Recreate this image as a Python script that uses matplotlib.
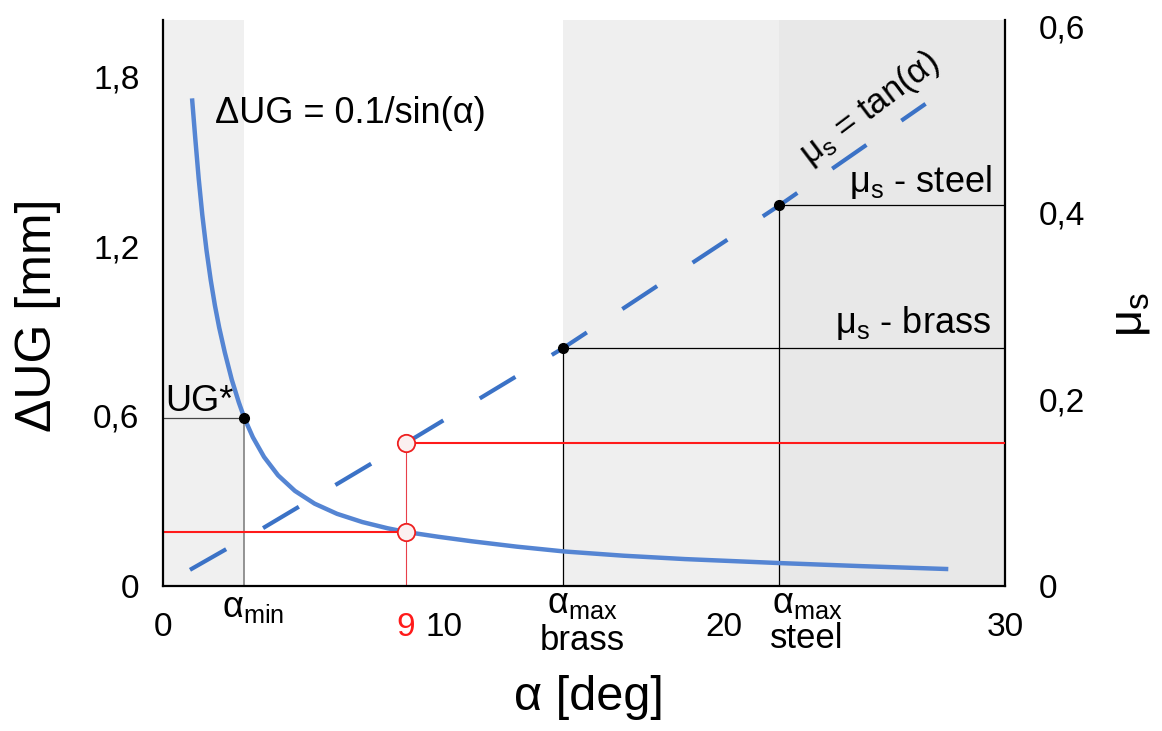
import matplotlib
matplotlib.use('Agg')
import matplotlib.pyplot as plt

plt.rcParams['font.family'] = ['Liberation Sans', 'DejaVu Sans']
plt.rcParams['mathtext.default'] = 'regular'

# dUG = 0.1/sin(alpha) curve (alpha in deg, dUG in mm)
alpha_ug = [1.04, 1.15, 1.27, 1.40, 1.55, 1.70, 1.85, 2.00, 2.20, 2.45, 2.70, 2.90,
            3.20, 3.60, 4.10, 4.70, 5.40, 6.20, 7.10, 8.00, 8.65, 9.80, 11.0, 12.6,
            14.29, 16.4, 18.6, 21.95, 24.9, 27.9]
dug = [1.715, 1.58, 1.44, 1.31, 1.185, 1.08, 0.99, 0.913, 0.825, 0.728, 0.648, 0.592,
       0.525, 0.455, 0.39, 0.335, 0.29, 0.254, 0.225, 0.203, 0.190, 0.173, 0.157, 0.138,
       0.121, 0.106, 0.094, 0.080, 0.069, 0.059]

# mu_s = tan(alpha) dashed line (right axis)
alpha_mu = [0.96, 3.52, 8.65, 14.26, 21.96, 27.17]
mu = [0.017, 0.061, 0.153, 0.255, 0.408, 0.517]

# marked points
alpha_min, ug_star = 2.88, 0.592
alpha_red, dug_red, mu_red = 8.65, 0.190, 0.153
alpha_brass, mu_brass = 14.26, 0.255
alpha_steel, mu_steel = 21.96, 0.408

xticks = [0, alpha_red, 10, 20, 30]
xtick_labels = ['0', '9', '10', '20', '30']
yticks_l = [0, 0.6, 1.2, 1.8]
ytick_labels_l = ['0', '0,6', '1,2', '1,8']
yticks_r = [0, 0.2, 0.4, 0.6]
ytick_labels_r = ['0', '0,2', '0,4', '0,6']

blue = '#5585d3'
blue_d = '#3b72c6'
red = '#ff1a1a'

fig = plt.figure(figsize=(11.62, 7.31), dpi=100)
ax = fig.add_axes([0.1403, 0.1988, 0.7246, 0.7739])
ax2 = ax.twinx()
ax.set_zorder(2)
ax2.set_zorder(1)
ax.patch.set_visible(False)

ax.set_xlim(0, 30)
ax.set_ylim(0, 2.0)
ax2.set_ylim(0, 0.607)

# shaded alpha ranges
ax2.axvspan(0, alpha_min, color='#f0f0f0', lw=0, zorder=0)
ax2.axvspan(alpha_brass, 30, color='#efefef', lw=0, zorder=0)
ax2.axvspan(alpha_steel, 30, color='#e8e8e8', lw=0, zorder=0)

# right axis stuff: friction lines, tan curve
ax2.plot([alpha_brass, alpha_brass, 30], [0, mu_brass, mu_brass], color='k', lw=0.9, zorder=2)
ax2.plot([alpha_steel, alpha_steel, 30], [0, mu_steel, mu_steel], color='k', lw=0.9, zorder=2)
ax2.plot(alpha_mu, mu, color=blue_d, lw=3.0, dashes=(10, 10.2), dash_capstyle='butt', zorder=3)
ax2.plot([alpha_red, alpha_red], [0, mu_red], color='#e8404a', lw=0.8, zorder=3)
ax2.plot([alpha_red, 30], [mu_red, mu_red], color=red, lw=1.5, zorder=3)
ax2.plot(alpha_red, mu_red, 'o', ms=12.5, mfc='#fbf0f0', mec='#ee2020', mew=1.3, zorder=5)
ax2.plot([alpha_brass, alpha_steel], [mu_brass, mu_steel], 'o', color='k', ms=7, zorder=5)

# left axis stuff
ax.plot([0, alpha_min], [ug_star, ug_star], color='#444444', lw=0.9)
ax.plot([alpha_min, alpha_min], [0, ug_star], color='#777777', lw=1.1)
ax.plot(alpha_ug, dug, color=blue, lw=3.2)
ax.plot([0, alpha_red], [dug_red, dug_red], color=red, lw=1.5)
ax.plot(alpha_red, dug_red, 'o', ms=12.5, mfc='#fbf0f0', mec='#ee2020', mew=1.3, zorder=5)
ax.plot(alpha_min, ug_star, 'o', color='k', ms=7, zorder=5)

# spines
for s in ['top', 'right']:
    ax.spines[s].set_visible(False)
for s in ['top', 'left', 'bottom']:
    ax2.spines[s].set_visible(False)
for s in ['left', 'bottom']:
    ax.spines[s].set_linewidth(1.6)
ax2.spines['right'].set_linewidth(1.6)

# ticks
ax.set_xticks(xticks, xtick_labels)
ax.get_xticklabels()[1].set_color(red)
ax.set_yticks(yticks_l, ytick_labels_l)
ax2.set_yticks(yticks_r, ytick_labels_r)
ax.tick_params(axis='x', length=0, pad=19, labelsize=24)
ax.tick_params(axis='y', length=0, pad=17, labelsize=24)
ax2.tick_params(axis='y', length=0, pad=24, labelsize=24)

# axis labels
ax.set_xlabel('α [deg]', fontsize=35)
ax.xaxis.set_label_coords(0.506, -0.158)
ax.set_ylabel('ΔUG [mm]', fontsize=36, va='center')
ax.yaxis.set_label_coords(-0.1485, 0.4785)
ax2.set_ylabel('μ$_s$', fontsize=34, va='center', rotation=90)
ax2.yaxis.set_label_coords(1.148, 0.48)

# labels under the x axis
tr = ax.get_xaxis_transform()
ax.annotate('α$_{min}$', xy=(alpha_min, 0), xycoords=tr, xytext=(-16, -22.5),
            textcoords='offset points', ha='left', va='baseline', fontsize=26)
ax.annotate('α$_{max}$', xy=(alpha_brass, 0), xycoords=tr, xytext=(-12, -19.7),
            textcoords='offset points', ha='left', va='baseline', fontsize=26)
ax.annotate('brass', xy=(alpha_brass, 0), xycoords=tr, xytext=(14, -46),
            textcoords='offset points', ha='center', va='baseline', fontsize=25)
ax.annotate('α$_{max}$', xy=(alpha_steel, 0), xycoords=tr, xytext=(-5.5, -19.7),
            textcoords='offset points', ha='left', va='baseline', fontsize=26)
ax.annotate('steel', xy=(alpha_steel, 0), xycoords=tr, xytext=(19.5, -45),
            textcoords='offset points', ha='center', va='baseline', fontsize=25)

# annotations inside
ax.text(0.0618, 0.8174, 'ΔUG = 0.1/sin(α)', transform=ax.transAxes,
        ha='left', va='baseline', fontsize=26)
ax.text(0.0024, 0.3088, 'UG*', transform=ax.transAxes, ha='left', va='baseline', fontsize=26)
ax.text(0.9846, 0.696, 'μ$_s$ - steel', transform=ax.transAxes, ha='right', va='baseline', fontsize=26)
ax.text(0.9834, 0.4467, 'μ$_s$ - brass', transform=ax.transAxes, ha='right', va='baseline', fontsize=26)
ax.text(0.839, 0.843, 'μ$_s$ = tan(α)', transform=ax.transAxes, ha='center', va='center',
        rotation=37, rotation_mode='anchor', fontsize=25)

fig.savefig('out.png', dpi=100, facecolor='white')
